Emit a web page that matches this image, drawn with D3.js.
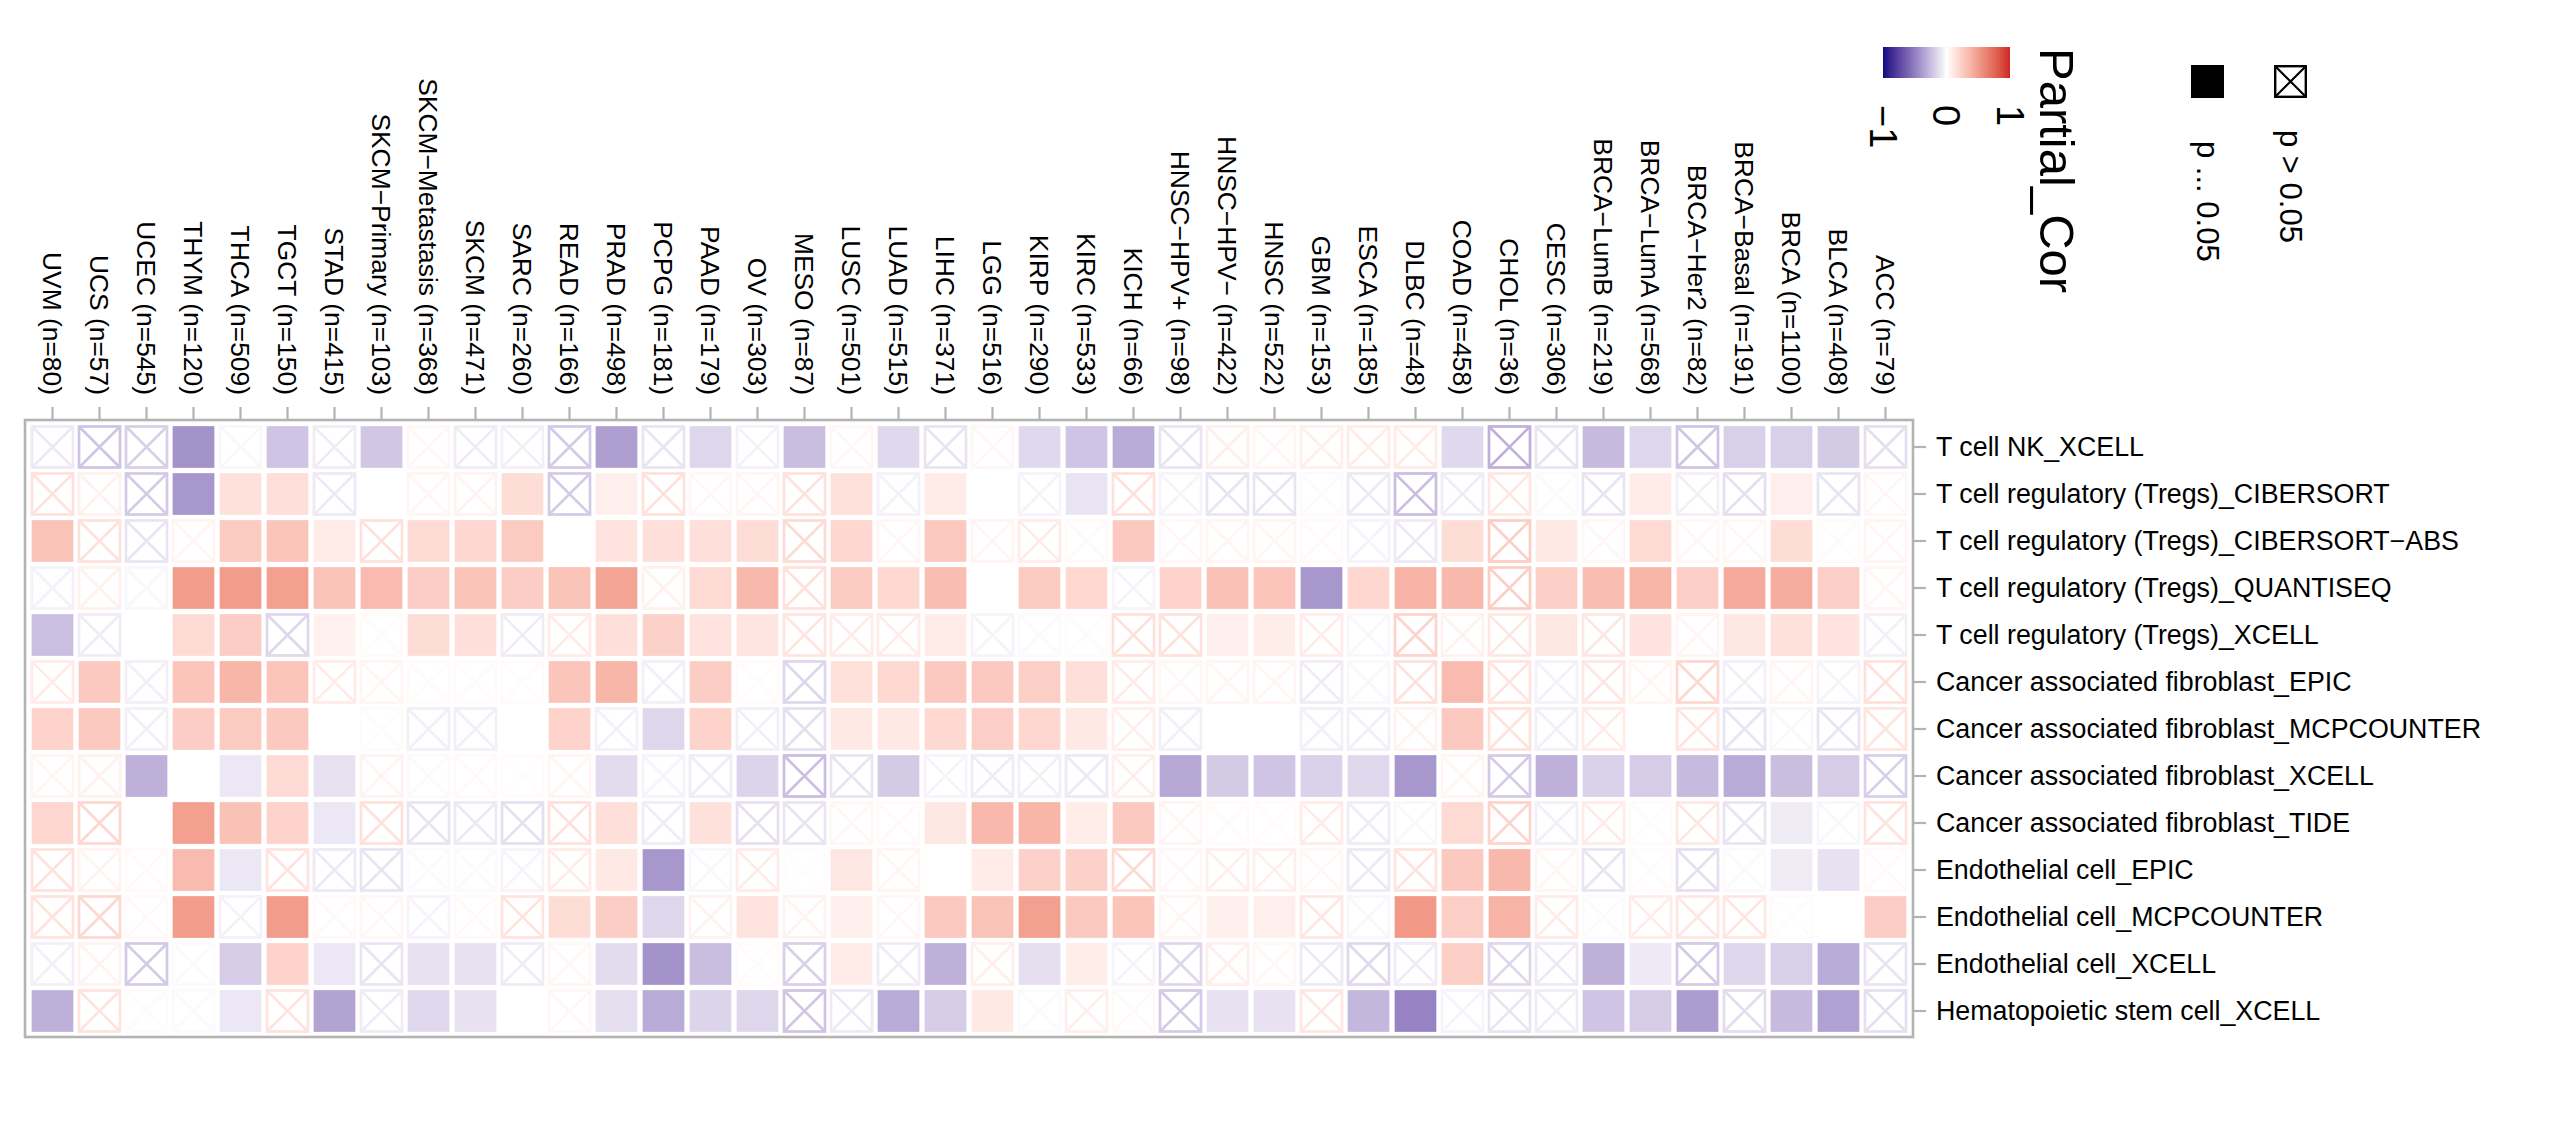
<!DOCTYPE html>
<html>
<head>
<meta charset="utf-8">
<script src="https://cdn.jsdelivr.net/npm/d3@7"></script>
<style>
body { margin: 0; background: #fff; }
</style>
</head>
<body>
<div id="chart-area"></div>
<script>
// Columns: cancer types, rows: immune/stromal cell estimates
var cancers = ["UVM (n=80)", "UCS (n=57)", "UCEC (n=545)", "THYM (n=120)", "THCA (n=509)", "TGCT (n=150)",
    "STAD (n=415)", "SKCM\u2212Primary (n=103)", "SKCM\u2212Metastasis (n=368)", "SKCM (n=471)", "SARC (n=260)",
    "READ (n=166)", "PRAD (n=498)", "PCPG (n=181)", "PAAD (n=179)", "OV (n=303)", "MESO (n=87)", "LUSC (n=501)",
    "LUAD (n=515)", "LIHC (n=371)", "LGG (n=516)", "KIRP (n=290)", "KIRC (n=533)", "KICH (n=66)",
    "HNSC\u2212HPV+ (n=98)", "HNSC\u2212HPV\u2212 (n=422)", "HNSC (n=522)", "GBM (n=153)", "ESCA (n=185)",
    "DLBC (n=48)", "COAD (n=458)", "CHOL (n=36)", "CESC (n=306)", "BRCA\u2212LumB (n=219)", "BRCA\u2212LumA (n=568)",
    "BRCA\u2212Her2 (n=82)", "BRCA\u2212Basal (n=191)", "BRCA (n=1100)", "BLCA (n=408)", "ACC (n=79)"];

var cellTypes = ["T cell NK_XCELL", "T cell regulatory (Tregs)_CIBERSORT", "T cell regulatory (Tregs)_CIBERSORT\u2212ABS",
    "T cell regulatory (Tregs)_QUANTISEQ", "T cell regulatory (Tregs)_XCELL", "Cancer associated fibroblast_EPIC",
    "Cancer associated fibroblast_MCPCOUNTER", "Cancer associated fibroblast_XCELL", "Cancer associated fibroblast_TIDE",
    "Endothelial cell_EPIC", "Endothelial cell_MCPCOUNTER", "Endothelial cell_XCELL", "Hematopoietic stem cell_XCELL"];

// partial correlation per row (one entry per cancer, null = not drawn)
var corNK = [-0.08, -0.22, -0.18, -0.42, -0.03, -0.22, -0.07, -0.21, 0.04, -0.07, -0.06, -0.2, -0.37, -0.1, -0.15, -0.05, -0.25, 0.04, -0.14, -0.1, 0.04, -0.14, -0.22, -0.32, -0.1, 0.08, 0.05, 0.08, 0.1, 0.1, -0.14, -0.3, -0.1, -0.26, -0.15, -0.22, -0.18, -0.18, -0.2, -0.12];
var corTregCib = [0.15, 0.07, -0.2, -0.4, 0.15, 0.16, -0.08, null, 0.05, 0.06, 0.17, -0.2, 0.08, 0.15, 0.04, 0.05, 0.15, 0.15, -0.05, 0.1, null, -0.04, -0.1, 0.15, -0.04, -0.1, -0.1, -0.02, -0.08, -0.25, -0.07, 0.12, -0.02, -0.1, 0.1, -0.06, -0.12, 0.08, -0.1, 0.04];
var corTregCibAbs = [0.3, 0.15, -0.1, 0.05, 0.26, 0.29, 0.1, 0.15, 0.18, 0.2, 0.26, null, 0.14, 0.16, 0.16, 0.17, 0.18, 0.2, 0.04, 0.27, 0.05, 0.1, 0.03, 0.27, 0.04, 0.05, 0.05, 0.03, -0.04, -0.08, 0.17, 0.25, 0.11, 0.04, 0.18, 0.04, 0.04, 0.17, 0.02, 0.05];
var corTregQuan = [-0.05, 0.07, -0.03, 0.5, 0.5, 0.48, 0.3, 0.34, 0.25, 0.3, 0.25, 0.3, 0.46, 0.07, 0.18, 0.36, 0.15, 0.26, 0.19, 0.33, null, 0.26, 0.19, -0.04, 0.22, 0.31, 0.29, -0.4, 0.2, 0.38, 0.36, 0.25, 0.24, 0.33, 0.37, 0.24, 0.43, 0.42, 0.24, 0.05];
var corTregXcell = [-0.24, -0.07, null, 0.18, 0.25, -0.15, 0.07, 0.02, 0.17, 0.16, -0.07, 0.1, 0.16, 0.23, 0.14, 0.13, 0.13, 0.1, 0.1, 0.1, -0.04, -0.02, 0.02, 0.15, 0.15, 0.08, 0.09, 0.1, -0.03, 0.22, 0.06, 0.12, 0.12, 0.12, 0.14, 0.05, 0.12, 0.15, 0.14, -0.06];
var corCafEpic = [0.1, 0.27, -0.06, 0.29, 0.37, 0.29, 0.1, 0.05, 0.02, 0.02, 0.02, 0.29, 0.37, -0.06, 0.25, 0.02, -0.15, 0.15, 0.19, 0.27, 0.27, 0.24, 0.16, 0.1, 0.04, 0.05, 0.05, -0.07, -0.03, 0.15, 0.34, 0.14, -0.05, 0.12, 0.05, 0.2, -0.06, 0.05, -0.04, 0.15];
var corCafMcp = [0.22, 0.27, -0.06, 0.25, 0.26, 0.27, null, 0.02, -0.06, -0.06, null, 0.22, -0.05, -0.15, 0.22, -0.06, -0.12, 0.11, 0.11, 0.19, 0.24, 0.2, 0.11, 0.08, -0.06, null, null, -0.06, -0.06, 0.06, 0.27, 0.15, -0.06, 0.1, null, 0.13, -0.1, -0.03, -0.1, 0.13];
var corCafXcell = [0.05, 0.07, -0.3, null, -0.09, 0.18, -0.11, 0.06, -0.02, 0.03, 0.02, 0.05, -0.13, -0.04, -0.07, -0.16, -0.25, -0.1, -0.2, -0.04, -0.07, -0.06, -0.08, 0.08, -0.33, -0.2, -0.22, -0.17, -0.14, -0.4, 0.05, -0.2, -0.3, -0.17, -0.19, -0.26, -0.32, -0.25, -0.19, -0.18];
var corCafTide = [0.2, 0.2, null, 0.48, 0.31, 0.22, -0.09, 0.15, -0.1, -0.08, -0.12, 0.15, 0.16, -0.07, 0.15, -0.12, -0.1, 0.04, 0.03, 0.12, 0.36, 0.37, 0.09, 0.27, 0.05, 0.02, 0.02, 0.1, -0.07, -0.03, 0.18, 0.22, -0.06, 0.1, 0.02, 0.12, -0.1, -0.07, -0.03, 0.14];
var corEndoEpic = [0.15, 0.06, 0.03, 0.34, -0.09, 0.14, -0.08, -0.1, -0.02, -0.02, -0.04, 0.1, 0.11, -0.4, -0.03, 0.1, -0.01, 0.12, 0.05, null, 0.1, 0.23, 0.23, 0.18, 0.04, 0.08, 0.08, 0.04, -0.08, 0.14, 0.27, 0.36, 0.05, -0.1, 0.02, -0.12, -0.02, -0.07, -0.11, 0.03];
var corEndoMcp = [0.14, 0.2, 0.03, 0.5, -0.05, 0.5, 0.03, 0.04, -0.04, 0.03, 0.14, 0.17, 0.25, -0.15, 0.06, 0.14, 0.06, 0.08, 0.04, 0.27, 0.3, 0.48, 0.27, 0.29, 0.05, 0.08, 0.08, 0.12, -0.03, 0.52, 0.24, 0.38, 0.1, -0.02, 0.1, 0.12, 0.12, 0.02, null, 0.25];
var corEndoXcell = [-0.06, 0.06, -0.2, -0.02, -0.19, 0.22, -0.09, -0.1, -0.11, -0.11, -0.07, 0.04, -0.13, -0.42, -0.25, 0.02, -0.18, 0.1, -0.07, -0.3, 0.08, -0.12, 0.09, -0.04, -0.15, 0.08, 0.04, -0.08, -0.14, -0.07, 0.24, -0.15, -0.08, -0.3, -0.08, -0.2, -0.15, -0.18, -0.32, -0.1];
var corHsc = [-0.3, 0.14, 0.02, -0.02, -0.09, 0.14, -0.35, -0.07, -0.14, -0.11, null, 0.04, -0.12, -0.32, -0.16, -0.15, -0.22, -0.08, -0.32, -0.19, 0.11, -0.02, 0.08, 0.03, -0.2, -0.11, -0.11, 0.12, -0.27, -0.48, -0.04, -0.1, -0.07, -0.22, -0.19, -0.38, -0.13, -0.26, -0.36, -0.12];

// 1 = p <= 0.05 (filled square), 0 = p > 0.05 (crossed box)
var sigNK = [0,0,0,1,0,1,0,1,0,0,0,0,1,0,1,0,1,0,1,0,0,1,1,1,0,0,0,0,0,0,1,0,0,1,1,0,1,1,1,0];
var sigTregCib = [0,0,0,1,1,1,0,0,0,0,1,0,1,0,0,0,0,1,0,1,0,0,1,0,0,0,0,0,0,0,0,0,0,0,1,0,0,1,0,0];
var sigTregCibAbs = [1,0,0,0,1,1,1,0,1,1,1,0,1,1,1,1,0,1,0,1,0,0,0,1,0,0,0,0,0,0,1,0,1,0,1,0,0,1,0,0];
var sigTregQuan = [0,0,0,1,1,1,1,1,1,1,1,1,1,0,1,1,0,1,1,1,0,1,1,0,1,1,1,1,1,1,1,0,1,1,1,1,1,1,1,0];
var sigTregXcell = [1,0,0,1,1,0,1,0,1,1,0,0,1,1,1,1,0,0,0,1,0,0,0,0,0,1,1,0,0,0,0,0,1,0,1,0,1,1,1,0];
var sigCafEpic = [0,1,0,1,1,1,0,0,0,0,0,1,1,0,1,0,0,1,1,1,1,1,1,0,0,0,0,0,0,0,1,0,0,0,0,0,0,0,0,0];
var sigCafMcp = [1,1,0,1,1,1,0,0,0,0,0,1,0,1,1,0,0,1,1,1,1,1,1,0,0,0,0,0,0,0,1,0,0,0,0,0,0,0,0,0];
var sigCafXcell = [0,0,1,0,1,1,1,0,0,0,0,0,1,0,0,1,0,0,1,0,0,0,0,0,1,1,1,1,1,1,0,0,1,1,1,1,1,1,1,0];
var sigCafTide = [1,0,0,1,1,1,1,0,0,0,0,0,1,0,1,0,0,0,0,1,1,1,1,1,0,0,0,0,0,0,1,0,0,0,0,0,0,1,0,0];
var sigEndoEpic = [0,0,0,1,1,0,0,0,0,0,0,0,1,1,0,0,0,1,0,0,1,1,1,0,0,0,0,0,0,0,1,1,0,0,0,0,0,1,1,0];
var sigEndoMcp = [0,0,0,1,0,1,0,0,0,0,0,1,1,1,0,1,0,1,0,1,1,1,1,1,0,1,1,0,0,1,1,1,0,0,0,0,0,0,0,1];
var sigEndoXcell = [0,0,0,0,1,1,1,0,1,1,0,0,1,1,1,0,0,1,0,1,0,1,1,0,0,0,0,0,0,0,1,0,0,1,1,0,1,1,1,0];
var sigHsc = [1,0,0,0,1,0,1,0,1,1,0,0,1,1,1,1,0,0,1,1,1,0,0,0,0,1,1,0,1,1,0,0,0,1,1,1,0,1,1,0];

var corRows = [corNK, corTregCib, corTregCibAbs, corTregQuan, corTregXcell, corCafEpic, corCafMcp,
    corCafXcell, corCafTide, corEndoEpic, corEndoMcp, corEndoXcell, corHsc];
var sigRows = [sigNK, sigTregCib, sigTregCibAbs, sigTregQuan, sigTregXcell, sigCafEpic, sigCafMcp,
    sigCafXcell, sigCafTide, sigEndoEpic, sigEndoMcp, sigEndoXcell, sigHsc];

var colorTicks = [-1, 0, 1];
var colorTickLabels = ["\u22121", "0", "1"];
var sigLegendLabels = ["p ... 0.05", "p > 0.05"];

var fontFamily = "'Liberation Sans', Arial, Helvetica, sans-serif";
var gridColor = "#b3b3b3";

var svg = d3.select("#chart-area")
    .append("svg")
    .attr("width", 2560)
    .attr("height", 1146)
    .style("font-family", fontFamily);

// Scales
var x = d3.scaleBand().domain(cancers).range([29, 1909]);
var y = d3.scaleBand().domain(cellTypes).range([423.5, 1034.5]);
var color = d3.scaleLinear()
    .domain([-1, 0, 1])
    .range(["#0c0a80", "#ffffff", "#cd2626"])
    .interpolate(d3.interpolateLab);

// flatten rows into cells
var cells = [];
cellTypes.forEach(function(ct, r) {
    cancers.forEach(function(ca, c) {
        var v = corRows[r][c];
        if (v === null) return;
        cells.push({ row: ct, col: ca, value: v, sig: sigRows[r][c] === 1 });
    });
});

// Panel border
svg.append("rect")
    .attr("x", 25)
    .attr("y", 420)
    .attr("width", 1913 - 25)
    .attr("height", 1037 - 420)
    .attr("fill", "none")
    .attr("stroke", gridColor)
    .attr("stroke-width", 2.6);

var g = svg.append("g");

// significant cells: filled squares
var full = 41.7;
g.selectAll("rect.sig")
    .data(cells.filter(function(d) { return d.sig; }))
    .enter().append("rect")
    .attr("class", "sig")
    .attr("x", function(d) { return x(d.col) + (x.bandwidth() - full) / 2; })
    .attr("y", function(d) { return y(d.row) + (y.bandwidth() - full) / 2; })
    .attr("width", full)
    .attr("height", full)
    .attr("fill", function(d) { return color(d.value); });

// non-significant cells: crossed boxes
var half = 20.5;
var ns = g.selectAll("g.ns")
    .data(cells.filter(function(d) { return !d.sig; }))
    .enter().append("g")
    .attr("class", "ns")
    .attr("transform", function(d) {
        return "translate(" + (x(d.col) + x.bandwidth() / 2) + "," + (y(d.row) + y.bandwidth() / 2) + ")";
    });
ns.append("rect")
    .attr("x", -half).attr("y", -half)
    .attr("width", half * 2).attr("height", half * 2)
    .attr("fill", "#fff")
    .attr("stroke", function(d) { return color(d.value); })
    .attr("stroke-width", 2.7);
ns.append("path")
    .attr("d", "M" + (-half) + "," + (-half) + "L" + half + "," + half +
        "M" + (-half) + "," + half + "L" + half + "," + (-half))
    .attr("fill", "none")
    .attr("stroke", function(d) { return color(d.value); })
    .attr("stroke-width", 2.5);

// X-axis on top, labels read downward
var xAxis = svg.append("g")
    .attr("transform", "translate(0,420)")
    .call(d3.axisTop(x).tickSize(13).tickSizeOuter(0));
xAxis.select(".domain").remove();
xAxis.selectAll(".tick line").attr("stroke", gridColor).attr("stroke-width", 2.2);
xAxis.selectAll(".tick text")
    .attr("font-family", fontFamily)
    .attr("font-size", "26.4px")
    .attr("fill", "#000")
    .attr("text-anchor", "end")
    .attr("transform", "rotate(90)")
    .attr("x", -25)
    .attr("y", 0)
    .attr("dy", "0.35em");

// Y-axis on the right
var yAxis = svg.append("g")
    .attr("transform", "translate(1913,0)")
    .call(d3.axisRight(y).tickSize(13).tickPadding(10).tickSizeOuter(0));
yAxis.select(".domain").remove();
yAxis.selectAll(".tick line").attr("stroke", gridColor).attr("stroke-width", 2.2);
yAxis.selectAll(".tick text")
    .attr("font-family", fontFamily)
    .attr("font-size", "26.8px")
    .attr("fill", "#000");

// Colour legend
var legX = d3.scaleLinear().domain([-1, 1]).range([1883, 2010]);
var grad = svg.append("defs").append("linearGradient")
    .attr("id", "corGrad")
    .attr("x1", "0%").attr("x2", "100%").attr("y1", "0%").attr("y2", "0%");
d3.range(0, 1.0001, 0.05).forEach(function(t) {
    grad.append("stop")
        .attr("offset", (t * 100) + "%")
        .attr("stop-color", color(-1 + 2 * t));
});
svg.append("rect")
    .attr("x", legX(-1))
    .attr("y", 47)
    .attr("width", legX(1) - legX(-1))
    .attr("height", 31)
    .attr("fill", "url(#corGrad)");

svg.selectAll("text.legTick")
    .data(colorTicks)
    .enter().append("text")
    .attr("class", "legTick")
    .attr("transform", function(d) { return "translate(" + legX(d) + ",105) rotate(90)"; })
    .attr("dy", "0.35em")
    .attr("font-size", "38px")
    .text(function(d, i) { return colorTickLabels[i]; });

svg.append("text")
    .attr("transform", "translate(2040,48) rotate(90)")
    .attr("font-size", "49px")
    .text("Partial_Cor");

// Significance legend
var keyX = [2191, 2274];
var keyLabelY = [141, 130];
svg.append("rect")
    .attr("x", keyX[0]).attr("y", 65)
    .attr("width", 33).attr("height", 33)
    .attr("fill", "#000");
svg.append("rect")
    .attr("x", keyX[1] + 1.2).attr("y", 66.2)
    .attr("width", 30.6).attr("height", 30.6)
    .attr("fill", "#fff")
    .attr("stroke", "#000")
    .attr("stroke-width", 2.4);
svg.append("path")
    .attr("d", "M" + (keyX[1] + 1.2) + ",66.2L" + (keyX[1] + 31.8) + ",96.8M" +
        (keyX[1] + 1.2) + ",96.8L" + (keyX[1] + 31.8) + ",66.2")
    .attr("stroke", "#000")
    .attr("stroke-width", 2.2);
svg.selectAll("text.sigLab")
    .data(sigLegendLabels)
    .enter().append("text")
    .attr("class", "sigLab")
    .attr("transform", function(d, i) { return "translate(" + (keyX[i] + 16.5) + "," + keyLabelY[i] + ") rotate(90)"; })
    .attr("dy", "0.35em")
    .attr("font-size", "31px")
    .text(function(d) { return d; });
</script>
</body>
</html>
